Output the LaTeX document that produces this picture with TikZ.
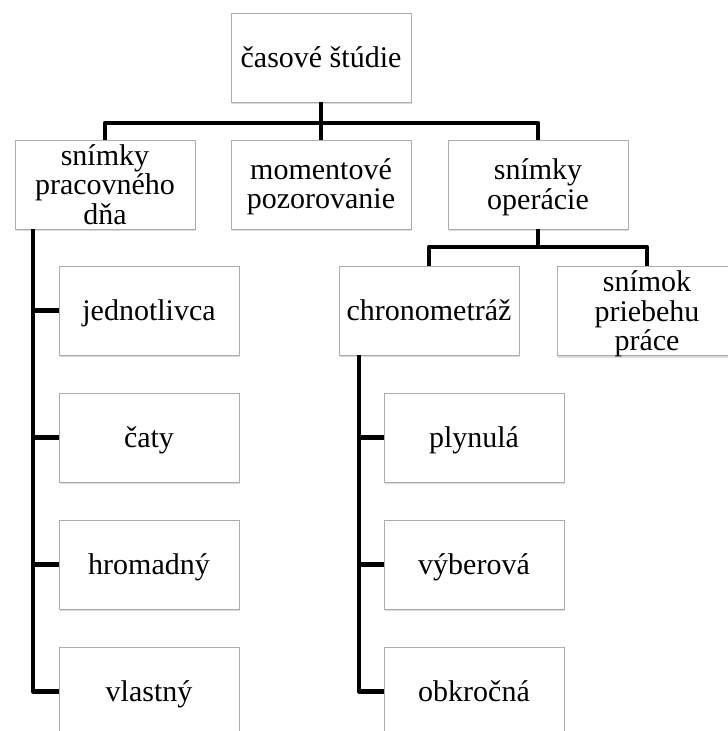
\documentclass[tikz,border=0pt]{standalone}
\usepackage{fontspec}
\setmainfont{Liberation Serif}
\newfontfamily\boxfont{Liberation Serif}
\usetikzlibrary{shadows}
% stacked, centred lines; the box's baseline is the first line's
\newcommand{\boxlines}[1]{\begin{tabular}[t]{@{}c@{}}#1\end{tabular}}
\begin{document}
\begin{tikzpicture}[x=1pt,y=-1pt,
  box/.style={draw=gray!65, line width=0.9pt, fill=white,
    minimum width=180pt, minimum height=89pt, inner sep=0pt,
    font={\boxfont\fontsize{30}{29}\selectfont}, text height=20pt,
    drop shadow={shadow xshift=1.2pt, shadow yshift=-2pt, opacity=0.4, fill=gray!70}},
  one/.style={box, text depth=0pt},
  two/.style={box, text depth=30pt},
  three/.style={box, text depth=59pt},
  conn/.style={line width=4.5pt, black, line join=round, line cap=butt}]
  \useasboundingbox (0,0) rectangle (728,731);
  \clip (0,0) rectangle (728,731);
  \fill[white] (0,0) rectangle (728,731);

  % bus levels and trunks
  \coordinate (bus1) at (0,123);
  \coordinate (bus2) at (0,247);
  \coordinate (ltrunk) at (33,229);
  \coordinate (rtrunk) at (359,355);

  % first and second level
  \node[one] (top) at (321,57.5) {\boxlines{časové štúdie}};
  \node[three] (pd) at (105,184.5) {\boxlines{snímky\\pracovného\\dňa}};
  \node[two] (mp) at (321,184.5) {\boxlines{momentové\\pozorovanie}};
  \node[two] (so) at (538,184.5) {\boxlines{snímky\\operácie}};

  % children of the third box
  \node[one] (ch) at (429,310.5) {\boxlines{chronometráž}};
  \node[three] (sn) at (647,311) {\boxlines{snímok\\priebehu\\práce}};

  % left column
  \node[one] (l1) at (149,310.5) {\boxlines{jednotlivca}};
  \node[one] (l2) at (149,437.5) {\boxlines{čaty}};
  \node[one] (l3) at (149,564.5) {\boxlines{hromadný}};
  \node[one] (l4) at (149,691.5) {\boxlines{vlastný}};

  % right column
  \node[one] (r1) at (474,437.5) {\boxlines{plynulá}};
  \node[one] (r2) at (474,564.5) {\boxlines{výberová}};
  \node[one] (r3) at (474,691.5) {\boxlines{obkročná}};

  % connectors
  \draw[conn] (top.south) -- (top.south |- bus1);
  \draw[conn] (pd.north) -- (pd.north |- bus1) -- (so.north |- bus1) -- (so.north);
  \draw[conn] (mp.north) -- (mp.north |- bus1);

  \draw[conn] (so.south) -- (so.south |- bus2);
  \draw[conn] (ch.north) -- (ch.north |- bus2) -- (sn.north |- bus2) -- (sn.north);

  \draw[conn] (ltrunk) |- (l4.west);
  \draw[conn] (ltrunk |- l1.west) -- (l1.west);
  \draw[conn] (ltrunk |- l2.west) -- (l2.west);
  \draw[conn] (ltrunk |- l3.west) -- (l3.west);

  \draw[conn] (rtrunk) |- (r3.west);
  \draw[conn] (rtrunk |- r1.west) -- (r1.west);
  \draw[conn] (rtrunk |- r2.west) -- (r2.west);
\end{tikzpicture}
\end{document}
